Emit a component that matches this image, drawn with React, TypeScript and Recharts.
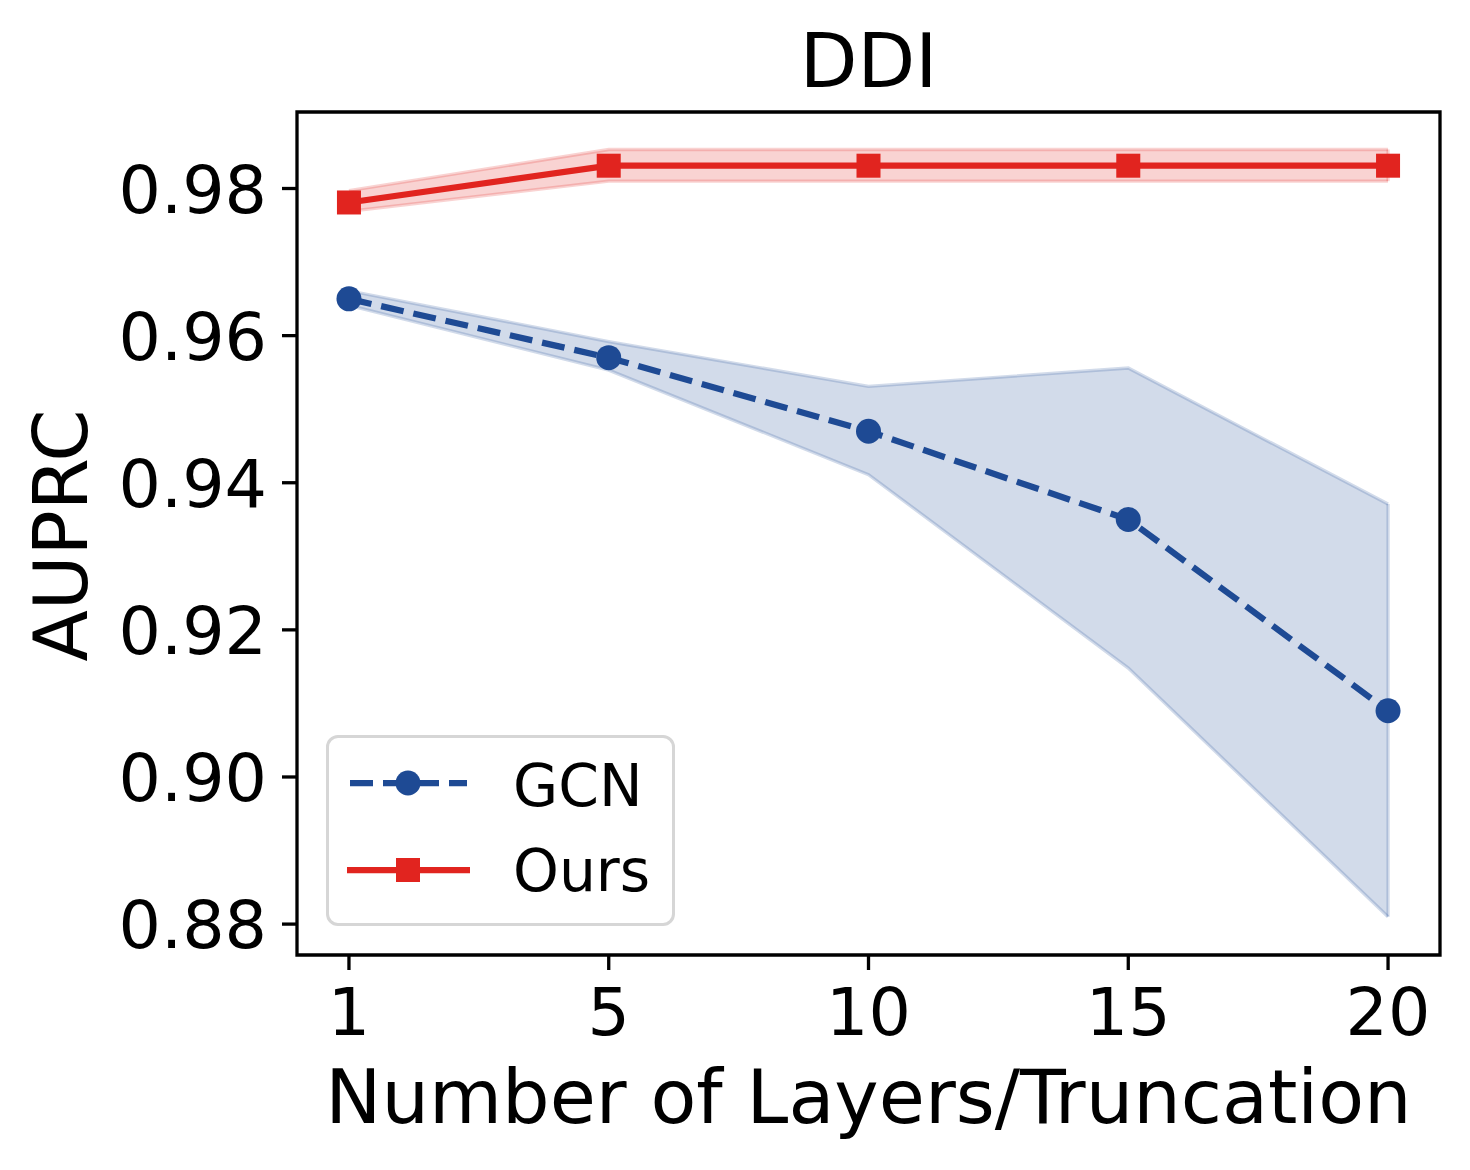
import React from 'react';
import {
  ComposedChart,
  Line,
  Area,
  XAxis,
  YAxis,
  Legend,
  ReferenceArea,
  ReferenceLine,
} from 'recharts';

// ---- data ----
const layers = [1, 5, 10, 15, 20];
const gcnMean = [0.965, 0.957, 0.947, 0.935, 0.909];
const gcnLow = [0.9641, 0.9553, 0.9411, 0.9148, 0.881];
const gcnHigh = [0.9661, 0.9592, 0.9531, 0.9556, 0.9371];
const oursMean = [0.9781, 0.9831, 0.9831, 0.9831, 0.9831];
const oursLow = [0.9769, 0.981, 0.981, 0.981, 0.981];
const oursHigh = [0.9797, 0.9853, 0.9853, 0.9853, 0.9853];
const yTicks = [0.88, 0.9, 0.92, 0.94, 0.96, 0.98];
const yDomain = [0.8758, 0.9904];
const seriesNames = ['GCN', 'Ours'];
const titleText = 'DDI';
const xLabelText = 'Number of Layers/Truncation';
const yLabelText = 'AUPRC';

// categories are evenly spaced (plotted by position index)
const xTicks = layers.map((_, i) => i);
const xDomain = [-0.2, layers.length - 1 + 0.2];

const data = layers.map((label, i) => ({
  pos: i,
  label,
  gcn: gcnMean[i],
  gcnBand: [gcnLow[i], gcnHigh[i]],
  ours: oursMean[i],
  oursBand: [oursLow[i], oursHigh[i]],
}));

const BLUE = '#1e4a94';
const RED = '#e1241f';
const FONT = 'DejaVu Sans';
const TICK_FS = 66.7;
const LABEL_FS = 75;
const LEGEND_FS = 58.3;

const XTick = (props: any) => {
  const { x, y, payload } = props;
  return (
    <text x={x} y={y} dy={50} textAnchor="middle" fontSize={TICK_FS} fontFamily={FONT} fill="#000">
      {layers[payload.value]}
    </text>
  );
};

const YTick = (props: any) => {
  const { x, y, payload } = props;
  return (
    <text x={x} y={y} dy={24} textAnchor="end" fontSize={TICK_FS} fontFamily={FONT} fill="#000">
      {Number(payload.value).toFixed(2)}
    </text>
  );
};

const CircleDot = (props: any) => {
  const { cx, cy, index } = props;
  if (cx == null || cy == null) return null;
  return <circle key={`c${index}`} cx={cx} cy={cy} r={12.5} fill={BLUE} />;
};

const SquareDot = (props: any) => {
  const { cx, cy, index } = props;
  if (cx == null || cy == null) return null;
  return <rect key={`s${index}`} x={cx - 12} y={cy - 12} width={24} height={24} fill={RED} />;
};

const LegendBox = () => (
  <div
    style={{
      width: 349,
      height: 191,
      boxSizing: 'border-box',
      border: '3px solid #d6d6d6',
      borderRadius: 12,
      background: 'rgba(255,255,255,0.8)',
      position: 'relative',
    }}
  >
    <svg width={349} height={191} style={{ position: 'absolute', left: -3, top: -3 }}>
      <line x1={24} x2={141} y1={48} y2={48} stroke={BLUE} strokeWidth={6.25} strokeDasharray="23 10" />
      <circle cx={82} cy={48} r={12.5} fill={BLUE} />
      <text x={187} y={71} fontSize={LEGEND_FS} fontFamily={FONT} fill="#000">
        {seriesNames[0]}
      </text>
      <line x1={21} x2={144} y1={135} y2={135} stroke={RED} strokeWidth={6.25} />
      <rect x={70} y={123} width={24} height={24} fill={RED} />
      <text x={187} y={156} fontSize={LEGEND_FS} fontFamily={FONT} fill="#000">
        {seriesNames[1]}
      </text>
    </svg>
  </div>
);

export default function App() {
  const last = layers.length - 1;
  return (
    <div style={{ position: 'absolute', left: 0, top: 0, width: 1470, height: 1170, background: '#fff' }}>
      <ComposedChart
        width={1470}
        height={1170}
        data={data}
        margin={{ top: 112, right: 30, left: 97, bottom: 115 }}
      >
        <XAxis
          type="number"
          dataKey="pos"
          domain={xDomain}
          ticks={xTicks}
          allowDataOverflow
          height={100}
          axisLine={false}
          tickLine={{ stroke: '#000', strokeWidth: 3.3 }}
          tickSize={15}
          tickMargin={15}
          tick={<XTick />}
          label={{
            content: (p: any) => {
              const vb = p.viewBox;
              return (
                <text
                  x={vb.x + vb.width / 2}
                  y={vb.y + 168}
                  textAnchor="middle"
                  fontSize={LABEL_FS}
                  fontFamily={FONT}
                  fill="#000"
                >
                  {xLabelText}
                </text>
              );
            },
          }}
        />
        <YAxis
          type="number"
          domain={yDomain}
          ticks={yTicks}
          allowDataOverflow
          width={200}
          axisLine={false}
          tickLine={{ stroke: '#000', strokeWidth: 3.3 }}
          tickSize={15}
          tickMargin={15}
          tick={<YTick />}
          label={{
            content: (p: any) => {
              const vb = p.viewBox;
              const cx = vb.x - 10;
              const cy = vb.y + vb.height / 2 + 2;
              return (
                <text
                  x={cx}
                  y={cy}
                  transform={`rotate(-90, ${cx}, ${cy})`}
                  textAnchor="middle"
                  fontSize={LABEL_FS}
                  fontFamily={FONT}
                  fill="#000"
                >
                  {yLabelText}
                </text>
              );
            },
          }}
        />
        <Area
          type="linear"
          dataKey="gcnBand"
          fill={BLUE}
          fillOpacity={0.2}
          stroke={BLUE}
          strokeOpacity={0.2}
          strokeWidth={3.3}
          isAnimationActive={false}
          activeDot={false}
          legendType="none"
        />
        <Area
          type="linear"
          dataKey="oursBand"
          fill={RED}
          fillOpacity={0.2}
          stroke={RED}
          strokeOpacity={0.2}
          strokeWidth={3.3}
          isAnimationActive={false}
          activeDot={false}
          legendType="none"
        />
        <ReferenceLine
          segment={[
            { x: last, y: gcnLow[last] },
            { x: last, y: gcnHigh[last] },
          ]}
          stroke={BLUE}
          strokeOpacity={0.2}
          strokeWidth={3.3}
        />
        <ReferenceLine
          segment={[
            { x: 0, y: gcnLow[0] },
            { x: 0, y: gcnHigh[0] },
          ]}
          stroke={BLUE}
          strokeOpacity={0.2}
          strokeWidth={3.3}
        />
        <ReferenceLine
          segment={[
            { x: last, y: oursLow[last] },
            { x: last, y: oursHigh[last] },
          ]}
          stroke={RED}
          strokeOpacity={0.2}
          strokeWidth={3.3}
        />
        <Line
          type="linear"
          dataKey="gcn"
          name={seriesNames[0]}
          stroke={BLUE}
          strokeWidth={6.25}
          strokeDasharray="23 10"
          dot={<CircleDot />}
          activeDot={false}
          isAnimationActive={false}
        />
        <Line
          type="linear"
          dataKey="ours"
          name={seriesNames[1]}
          stroke={RED}
          strokeWidth={6.25}
          dot={<SquareDot />}
          activeDot={false}
          isAnimationActive={false}
        />
        <ReferenceArea
          x1={xDomain[0]}
          x2={xDomain[1]}
          y1={yDomain[0]}
          y2={yDomain[1]}
          fill="none"
          fillOpacity={0}
          stroke="#000"
          strokeWidth={3.3}
          ifOverflow="visible"
        />
        <Legend
          layout="horizontal"
          verticalAlign="middle"
          align="center"
          content={<LegendBox />}
          wrapperStyle={{ position: 'absolute', left: 326, top: 735, width: 349, height: 191 }}
        />
        <text x={868.5} y={87} textAnchor="middle" fontSize={LABEL_FS} fontFamily={FONT} fill="#000">
          {titleText}
        </text>
      </ComposedChart>
    </div>
  );
}
